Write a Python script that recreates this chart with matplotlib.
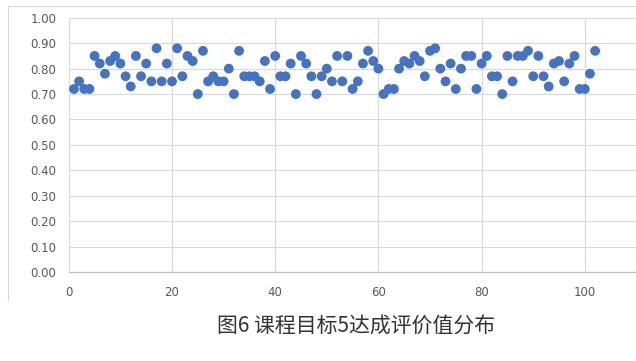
import matplotlib
matplotlib.use("Agg")
import matplotlib.pyplot as plt
from matplotlib.lines import Line2D
from matplotlib.ticker import FormatStrFormatter, MultipleLocator

plt.rcParams['font.family'] = ['Noto Sans CJK SC', 'DejaVu Sans']

# Attainment value of course objective 5 for each student (1..102)
student_no = list(range(1, 103))
attainment = [
    0.72, 0.75, 0.72, 0.72, 0.85, 0.82, 0.78, 0.83, 0.85, 0.82,
    0.77, 0.73, 0.85, 0.77, 0.82, 0.75, 0.88, 0.75, 0.82, 0.75,
    0.88, 0.77, 0.85, 0.83, 0.70, 0.87, 0.75, 0.77, 0.75, 0.75,
    0.80, 0.70, 0.87, 0.77, 0.77, 0.77, 0.75, 0.83, 0.72, 0.85,
    0.77, 0.77, 0.82, 0.70, 0.85, 0.82, 0.77, 0.70, 0.77, 0.80,
    0.75, 0.85, 0.75, 0.85, 0.72, 0.75, 0.82, 0.87, 0.83, 0.80,
    0.70, 0.72, 0.72, 0.80, 0.83, 0.82, 0.85, 0.83, 0.77, 0.87,
    0.88, 0.80, 0.75, 0.82, 0.72, 0.80, 0.85, 0.85, 0.72, 0.82,
    0.85, 0.77, 0.77, 0.70, 0.85, 0.75, 0.85, 0.85, 0.87, 0.77,
    0.85, 0.77, 0.73, 0.82, 0.83, 0.75, 0.82, 0.85, 0.72, 0.72,
    0.78, 0.87,
]
x_ticks = [0, 20, 40, 60, 80, 100]
caption = "图6 课程目标5达成评价值分布"

W, H = 636, 361
fig = plt.figure(figsize=(W / 100, H / 100), dpi=100)
fig.patch.set_facecolor("white")

# chart-area frame (left and top edges)
fig.add_artist(Line2D([8 / W, 8 / W], [1 - 300 / H, 1 - 6 / H], color="#d9d9d9", lw=0.8))
fig.add_artist(Line2D([8 / W, 1.0], [1 - 6 / H, 1 - 6 / H], color="#d9d9d9", lw=0.8))

left, right, bottom, top = 68.8, 636, 272, 17.8
ax = fig.add_axes([left / W, 1 - bottom / H, (right - left) / W, (bottom - top) / H])

ax.scatter(student_no, attainment, s=50, color="#4472C4", edgecolors="none", zorder=3)

ax.set_xlim(0, (right - left) / 5.16)
ax.set_ylim(0, 1.0)
ax.set_xticks(x_ticks)
ax.yaxis.set_major_locator(MultipleLocator(0.1))
ax.yaxis.set_major_formatter(FormatStrFormatter("%.2f"))

ax.grid(True, color="#d9d9d9", lw=0.8, zorder=0)
ax.set_axisbelow(True)
for side in ("top", "right", "left"):
    ax.spines[side].set_visible(False)
ax.spines["bottom"].set_color("#bfbfbf")
ax.spines["bottom"].set_linewidth(0.9)

ax.tick_params(axis="both", length=0, labelsize=8.5, labelcolor="#595959")
ax.tick_params(axis="y", pad=9)
ax.tick_params(axis="x", pad=10)
for lbl in ax.get_xticklabels() + ax.get_yticklabels():
    lbl.set_fontfamily(["DejaVu Sans"])

fig.text(356 / W, 1 - 327 / H, caption, ha="center", va="center",
         fontsize=15, color="#333333")

fig.savefig("out.png", dpi=100, facecolor="white")
